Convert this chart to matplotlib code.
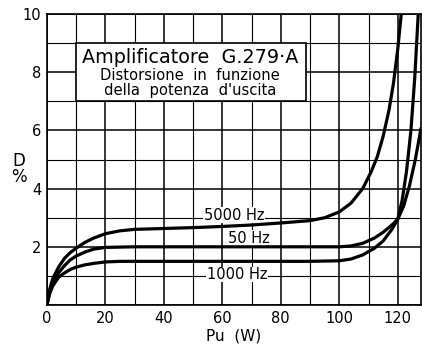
import matplotlib.pyplot as plt

# Distorsione D (%) in funzione della potenza d'uscita Pu (W)
pu_5000 = [0, 1, 2, 4, 6, 8, 10, 13, 16, 20, 25, 30, 40, 50, 60, 70, 80, 90, 95, 100,
           104, 108, 111, 113, 115, 117, 118.5, 120, 121.2]
d_5000 = [0, 0.55, 0.9, 1.3, 1.6, 1.8, 1.95, 2.15, 2.3, 2.45, 2.55, 2.6, 2.63, 2.66, 2.7,
          2.75, 2.82, 2.9, 3.0, 3.2, 3.5, 4.0, 4.6, 5.1, 5.8, 6.7, 7.6, 8.8, 10.0]

pu_50 = [0, 1, 2, 4, 6, 8, 10, 13, 16, 20, 30, 50, 70, 90, 100, 104, 108, 112, 115, 118,
         120, 122, 124, 126, 128]
d_50 = [0, 0.45, 0.75, 1.1, 1.35, 1.55, 1.68, 1.82, 1.92, 1.98, 2.0, 2.0, 2.0, 2.0, 2.0,
        2.03, 2.12, 2.3, 2.5, 2.75, 2.95, 3.4, 4.1, 5.0, 6.1]

pu_1000 = [0, 1, 2, 4, 6, 8, 10, 13, 16, 20, 25, 30, 50, 70, 90, 100, 104, 108, 112, 115,
           118, 120, 121.5, 123, 124.5, 125.8, 127]
d_1000 = [0, 0.4, 0.65, 0.95, 1.1, 1.22, 1.3, 1.38, 1.43, 1.48, 1.5, 1.5, 1.5, 1.5, 1.5,
          1.52, 1.58, 1.72, 1.95, 2.2, 2.6, 2.95, 3.6, 4.6, 6.0, 7.8, 10.0]

x_ticks = [0, 20, 40, 60, 80, 100, 120]
y_ticks = [2, 4, 6, 8, 10]

fig = plt.figure(figsize=(4.22, 3.45), dpi=100)
ax = fig.add_axes([0.111, 0.116, 0.887, 0.843])

for v in range(0, 130, 10):
    ax.axvline(v, color="black", lw=1.1 if v % 20 == 0 else 0.8, zorder=1)
for v in range(0, 11):
    ax.axhline(v, color="black", lw=1.1 if v % 2 == 0 else 0.8, zorder=1)

ax.plot(pu_5000, d_5000, color="black", lw=2.3, zorder=3, solid_capstyle="butt")
ax.plot(pu_50, d_50, color="black", lw=2.3, zorder=3, solid_capstyle="butt")
ax.plot(pu_1000, d_1000, color="black", lw=2.3, zorder=3, solid_capstyle="butt")

# etichette sotto le curve ma sopra la griglia
lbl = dict(ha="center", va="center", fontsize=10.5, zorder=2,
           bbox=dict(facecolor="white", edgecolor="none", pad=0.3))
ax.text(64, 3.08, "5000 Hz", **lbl)
ax.text(69, 2.3, "50 Hz", **lbl)
ax.text(65, 1.05, "1000 Hz", **lbl)

ax.add_patch(plt.Rectangle((10, 7), 78.5, 2, facecolor="white", edgecolor="black",
                           lw=1.2, zorder=4))
ax.text(49, 8.52, "Amplificatore  G.279·A", ha="center", va="center",
        fontsize=13.8, zorder=5)
ax.text(49, 7.88, "Distorsione  in  funzione", ha="center", va="center",
        fontsize=10.6, zorder=5)
ax.text(49, 7.36, "della  potenza  d'uscita", ha="center", va="center",
        fontsize=10.6, zorder=5)

ax.set_xlim(0, 128)
ax.set_ylim(0, 10)
ax.set_xticks(x_ticks)
ax.set_yticks(y_ticks)
ax.tick_params(length=0, labelsize=10.5, pad=4)
for s in ax.spines.values():
    s.set_linewidth(1.2)

ax.set_xlabel("Pu  (W)", fontsize=11, labelpad=2)
fig.text(0.045, 0.51, "D\n%", ha="center", va="center", fontsize=12,
         linespacing=0.9)

fig.savefig("out.png", dpi=100)
